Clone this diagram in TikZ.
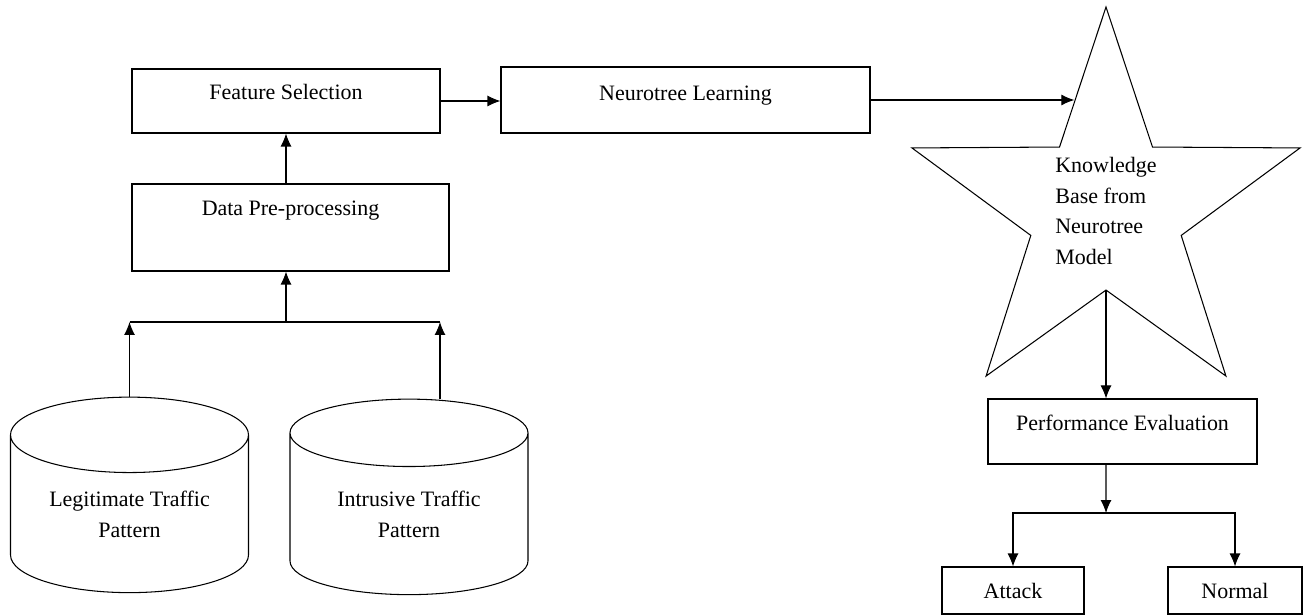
\documentclass[tikz,border=0pt]{standalone}
\usepackage{fontspec}
\setmainfont{Liberation Serif}
\usetikzlibrary{arrows.meta,calc,positioning,shapes.geometric}

\begin{document}
\begin{tikzpicture}[x=0.2mm,y=-0.2mm]

\tikzstyle{blk} = [rectangle,draw=black,line width=0.6pt,fill=white,inner sep=0pt,font=\fontsize{12.5}{15}\selectfont]%
\tikzstyle{db} = [blk,cylinder,shape border rotate=90,aspect=0.47,minimum width=47.6mm,minimum height=39.1mm,align=center,font=\fontsize{12.5}{17.5}\selectfont]%
\tikzstyle{kbstar} = [blk,star,star points=5,star point ratio=2.58,minimum size=81.6mm,align=left,font=\fontsize{12.5}{17.5}\selectfont]%
\tikzstyle{arc} = [->,line width=0.6pt,>={Latex[length=2.6mm,width=2.2mm]}]%
\tikzstyle{wire} = [line width=0.6pt]%

\useasboundingbox (0,0) rectangle (1305,616);

\node[blk,minimum width=61.6mm,minimum height=12.8mm,text depth=3.6mm] (fs) at (286,101) {Feature Selection};
\node[blk,minimum width=63.4mm,minimum height=17.4mm,text depth=7.6mm] (dp) at (290.5,227.5) {Data Pre-processing};
\node[blk,minimum width=73.8mm,minimum height=13.2mm,text depth=2.8mm] (nl) at (685.5,100) {Neurotree Learning};

\node[db] (leg) at (129.5,514) {Legitimate Traffic\\Pattern};
\node[db] (intr) at (409,514) {Intrusive Traffic\\Pattern};

\node[kbstar] (kb) at (1106,211) {Knowledge\\Base from\\Neurotree\\Model};
\node[blk,minimum width=53.8mm,minimum height=13mm,text depth=3.4mm] (pe) at (1122.5,431.5) {Performance Evaluation};
\node[blk,minimum width=28.4mm,minimum height=9.4mm] (att) at (1013,590.5) {Attack};
\node[blk,minimum width=26.8mm,minimum height=9.4mm] (nor) at (1235,590.5) {Normal};

\coordinate (join) at (286,322);
\coordinate (split) at (1106,513);

% inputs
\draw[arc] (leg.top) -- (leg.top |- join);
\draw[arc] ([xshift=6.2mm]intr.top) -- ([xshift=6.2mm]intr.top |- join);
\draw[wire] (leg.top |- join) -- ([xshift=6.2mm]intr.top |- join);
\draw[arc] (join) -- (join |- dp.south);
\draw[arc] (fs |- dp.north) -- (fs.south);

\draw[arc] (fs.east) -- (fs.east -| nl.west);
\draw[arc] (nl.east) -- (nl.east -| kb.106);

% outputs
\draw[arc] (kb.south) -- (kb.south |- pe.north);
\draw[arc] (kb.south |- pe.south) -- (split);
\draw[arc] (split) -| (att.north);
\draw[arc] (split) -| (nor.north);

\end{tikzpicture}
\end{document}
